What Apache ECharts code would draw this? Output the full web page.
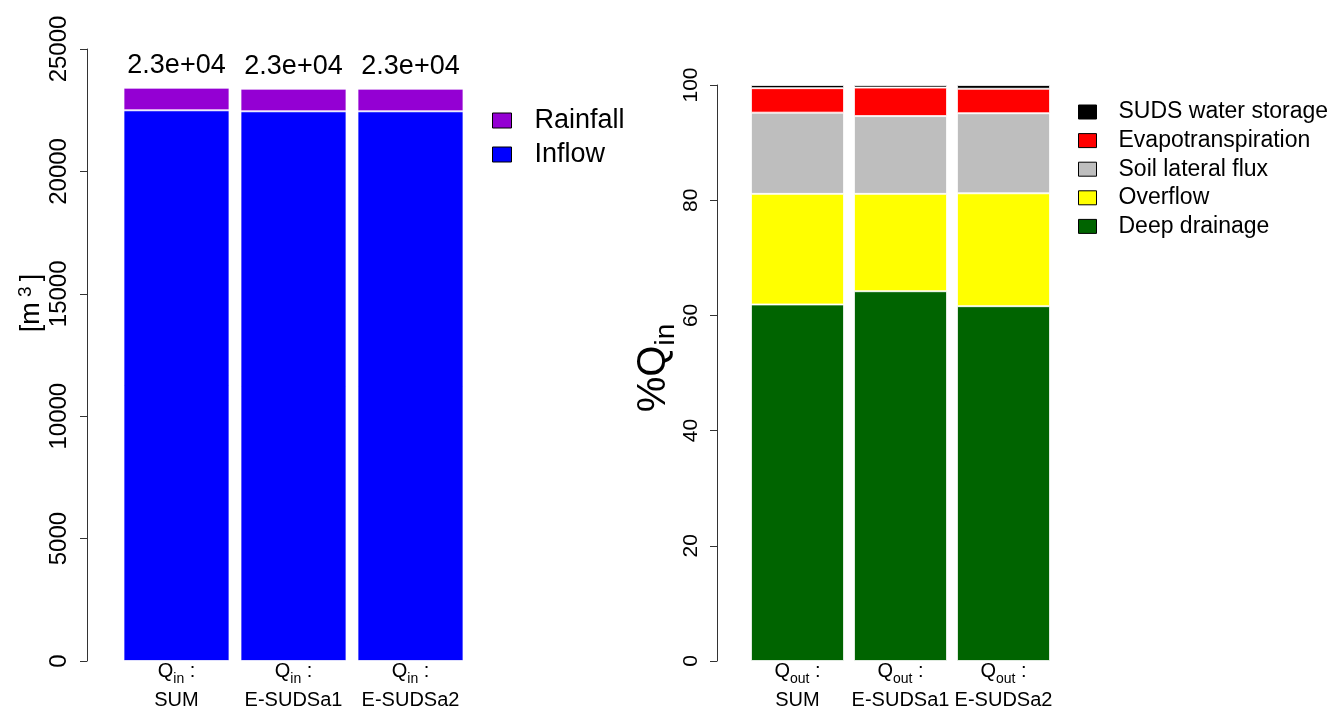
<!DOCTYPE html>
<html>
<head>
<meta charset="utf-8">
<script src="https://cdn.jsdelivr.net/npm/echarts@6/dist/echarts.min.js"></script>
<style>
  html, body { margin: 0; padding: 0; background: #fff; }
  #chart { width: 1336px; height: 709px; }
</style>
</head>
<body>
<div id="chart"></div>
<script>
// Left panel: inflow volumes [m3]
var inCats = ["SUM", "E-SUDSa1", "E-SUDSa2"];
var inflow = [22496, 22455, 22455];
var rainfall = [923, 924, 924];

// Right panel: outflow partition [% of Qin]
var outCats = ["SUM", "E-SUDSa1", "E-SUDSa2"];
var deepDrainage = [61.9, 64.2, 61.6];
var overflow = [19.2, 16.9, 19.6];
var soilLateral = [14.1, 13.5, 13.9];
var evapo = [4.25, 4.95, 4.25];
var sudsStorage = [0.55, 0.45, 0.65];

var FONT = "Liberation Sans, Arial, sans-serif";
var EDGE = "rgba(255,255,255,0.75)";

function sci(v) {
  var e = Math.floor(Math.log10(v));
  var m = (v / Math.pow(10, e)).toFixed(1);
  return m + "e+" + (e < 10 ? "0" + e : "" + e);
}

function catLabel(sub) {
  return function (v) { return "{q|Q}{s|" + sub + "}{q| :}\n{q|" + v + "}"; };
}

var catRich = {
  q: { fontSize: 20, color: "#000", fontFamily: FONT, lineHeight: 29 },
  s: { fontSize: 14, color: "#000", fontFamily: FONT, verticalAlign: "bottom", lineHeight: 22 }
};

function yAx(grid, max, interval, offset, labelSize, labelMargin, name, nameGap, namePad, nameRich) {
  return {
    type: "value", gridIndex: grid, min: 0, max: max, interval: interval,
    offset: offset,
    name: name, nameLocation: "middle", nameGap: nameGap, nameRotate: 90,
    nameTextStyle: { rich: nameRich, padding: namePad },
    axisLine: { show: true, lineStyle: { color: "#333", width: 1 } },
    axisTick: { show: true, length: 7, lineStyle: { color: "#333" } },
    axisLabel: {
      rotate: 90, fontSize: labelSize, color: "#000", fontFamily: FONT, margin: labelMargin,
      formatter: function (v) { return String(v); }
    },
    splitLine: { show: false }
  };
}

function bar(name, data, color, xi, stack) {
  return {
    name: name, type: "bar", stack: stack, xAxisIndex: xi, yAxisIndex: xi,
    data: data, barCategoryGap: xi === 0 ? "9.4%" : "9.7%",
    itemStyle: { color: color, borderColor: EDGE, borderWidth: 1 },
    emphasis: { disabled: true }
  };
}

var chart = echarts.init(document.getElementById("chart"), null, { renderer: "canvas" });

var rainSeries = bar("Rainfall", rainfall, "#9400D3", 0, "in");
rainSeries.label = {
  show: true, position: "top", distance: 9, fontSize: 27, color: "#000", fontFamily: FONT,
  formatter: function (p) { return sci(inflow[p.dataIndex] + rainfall[p.dataIndex]); }
};

var option = {
  animation: false,
  textStyle: { fontFamily: FONT },
  grid: [
    { left: 118, top: 49, width: 351, height: 612, outerBoundsMode: "none", containLabel: false },
    { left: 746, top: 85, width: 309, height: 576, outerBoundsMode: "none", containLabel: false }
  ],
  xAxis: [
    {
      type: "category", gridIndex: 0, data: inCats,
      axisLine: { show: false }, axisTick: { show: false },
      axisLabel: { formatter: catLabel("in"), rich: catRich, margin: -4, interval: 0 }
    },
    {
      type: "category", gridIndex: 1, data: outCats,
      axisLine: { show: false }, axisTick: { show: false },
      axisLabel: { formatter: catLabel("out"), rich: catRich, margin: -4, interval: 0 }
    }
  ],
  yAxis: [
    yAx(0, 25000, 5000, 31, 24, 16, "{t|[m}{u| 3 }{t|]}", 40, [0, 0, 0, 104], {
      t: { fontSize: 27, color: "#000", fontFamily: FONT },
      u: { fontSize: 19, color: "#000", fontFamily: FONT, verticalAlign: "top", padding: [0, 0, 12, 0] }
    }),
    yAx(1, 100, 20, 29, 21, 15, "{t|%Q}{s|in}", -4, [0, 0, 0, 10], {
      t: { fontSize: 40, lineHeight: 40, color: "#000", fontFamily: FONT, verticalAlign: "top" },
      s: { fontSize: 28, lineHeight: 64, color: "#000", fontFamily: FONT, verticalAlign: "middle" }
    })
  ],
  legend: [
    {
      orient: "vertical", left: 492, top: 107, padding: 0, itemWidth: 19, itemHeight: 15, itemGap: 7,
      icon: "rect", data: ["Rainfall", "Inflow"],
      itemStyle: { borderColor: "#000", borderWidth: 1 },
      textStyle: { fontSize: 27, color: "#000", fontFamily: FONT, padding: [0, 0, 0, 18], lineHeight: 27 }
    },
    {
      orient: "vertical", left: 1078, top: 100, padding: 0, itemWidth: 18, itemHeight: 14, itemGap: 4.6,
      icon: "rect",
      data: ["SUDS water storage", "Evapotranspiration", "Soil lateral flux", "Overflow", "Deep drainage"],
      itemStyle: { borderColor: "#000", borderWidth: 1 },
      textStyle: { fontSize: 23, color: "#000", fontFamily: FONT, padding: [0, 0, 0, 17], lineHeight: 24 }
    }
  ],
  series: [
    bar("Inflow", inflow, "#0000FF", 0, "in"),
    rainSeries,
    bar("Deep drainage", deepDrainage, "#006400", 1, "out"),
    bar("Overflow", overflow, "#FFFF00", 1, "out"),
    bar("Soil lateral flux", soilLateral, "#BEBEBE", 1, "out"),
    bar("Evapotranspiration", evapo, "#FF0000", 1, "out"),
    bar("SUDS water storage", sudsStorage, "#000000", 1, "out")
  ]
};

chart.setOption(option);
</script>
</body>
</html>
